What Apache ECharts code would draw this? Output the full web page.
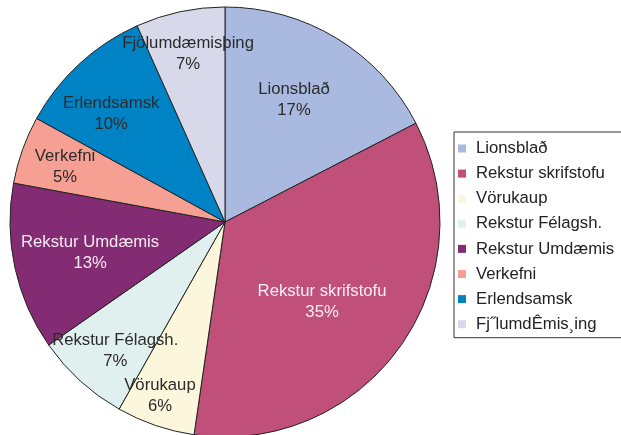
<!DOCTYPE html>
<html>
<head>
<meta charset="utf-8">
<script src="https://cdn.jsdelivr.net/npm/echarts@6/dist/echarts.min.js"></script>
<style>
  html, body { margin: 0; padding: 0; background: #fff; }
  #main { width: 621px; height: 435px; }
</style>
</head>
<body>
<div id="main"></div>
<script>
// flokkar (merkingar í kökunni)
var categories = ["Lionsblað", "Rekstur skrifstofu", "Vörukaup", "Rekstur Félagsh.", "Rekstur Umdæmis", "Verkefni", "Erlendsamsk", "Fjölumdæmisþing"];
// texti í skýringu (eins og á myndinni)
var legendLabels = ["Lionsblað", "Rekstur skrifstofu", "Vörukaup", "Rekstur Félagsh.", "Rekstur Umdæmis", "Verkefni", "Erlendsamsk", "Fj˝lumdÊmis¸ing"];
// hlutfall (%)
var values = [17.4, 34.9, 5.9, 7.1, 12.6, 5.1, 10.3, 6.7];

var colors = ["#aab9df", "#c0507a", "#fcf6dd", "#e0f0ef", "#842c73", "#f6a094", "#0083c4", "#d7d9ea"];
var labelColors = ["#2b2b2b", "#fbeef3", "#2b2b2b", "#2b2b2b", "#f6eaf3", "#2b2b2b", "#2b2b2b", "#2b2b2b"];
// staðsetning merkinga: [horn (gráður frá toppi), hlutfall af radíus]
var labelPlace = [[29.5, 0.652], [129.5, 0.585], [200.5, 0.864], [220.4, 0.788], [257, 0.644], [289, 0.787], [313.5, 0.730], [347.6, 0.800]];

var cx = 225, cy = 222, R = 215;

var chart = echarts.init(document.getElementById("main"));

var pieData = categories.map(function (name, i) {
  return {
    name: name,
    value: values[i],
    itemStyle: { color: colors[i] },
    label: { color: labelColors[i] }
  };
});

var option = {
  animation: false,
  textStyle: { fontFamily: "Liberation Sans, Arial, sans-serif" },
  legend: {
    orient: "vertical",
    left: 454,
    top: 132,
    data: categories,
    icon: "rect",
    itemWidth: 8,
    itemHeight: 8,
    itemGap: 6.1,
    padding: [7, 19, 4, 4],
    borderColor: "#333",
    borderWidth: 1,
    itemStyle: { borderWidth: 0 },
    textStyle: {
      fontSize: 16.7,
      color: "#222",
      lineHeight: 19,
      padding: [0, 0, 0, 5]
    },
    formatter: function (name) {
      return legendLabels[categories.indexOf(name)];
    }
  },
  series: [
    {
      type: "pie",
      center: [cx, cy],
      radius: R,
      startAngle: 90,
      clockwise: true,
      silent: true,
      itemStyle: {
        borderColor: "#222",
        borderWidth: 1
      },
      label: {
        show: true,
        position: "inside",
        fontSize: 16.7,
        lineHeight: 21,
        formatter: function (p) {
          return p.name + "\n" + Math.round(p.value) + "%";
        }
      },
      labelLine: { show: false },
      labelLayout: function (p) {
        var pl = labelPlace[p.dataIndex];
        var a = pl[0] * Math.PI / 180;
        return {
          x: cx + pl[1] * R * Math.sin(a),
          y: cy - pl[1] * R * Math.cos(a),
          align: "center",
          verticalAlign: "middle"
        };
      },
      data: pieData
    }
  ]
};

chart.setOption(option);
</script>
</body>
</html>
